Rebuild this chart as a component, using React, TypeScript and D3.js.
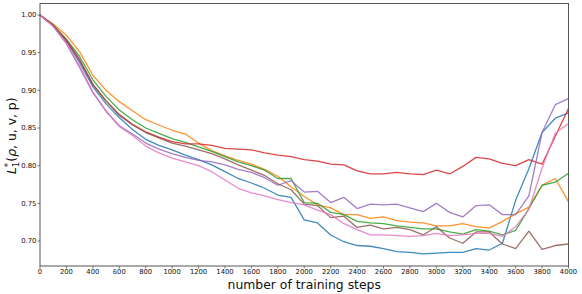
import React, { useRef, useEffect } from "react";
import * as d3 from "d3";

// training steps, sampled every 100
const steps = d3.range(0, 4001, 100);

const blueLoss = [
  1.0, 0.986, 0.965, 0.937, 0.905, 0.882, 0.864, 0.848, 0.835, 0.827, 0.821,
  0.814, 0.808, 0.801, 0.792, 0.783, 0.777, 0.77, 0.761, 0.758, 0.728,
  0.724, 0.708, 0.699, 0.694, 0.693, 0.69, 0.686, 0.685, 0.683, 0.684,
  0.685, 0.685, 0.69, 0.688, 0.697, 0.754, 0.796, 0.844, 0.863, 0.87,
];
const orangeLoss = [
  1.0, 0.988, 0.973, 0.951, 0.92, 0.9, 0.885, 0.873, 0.861, 0.854, 0.847,
  0.842, 0.83, 0.82, 0.813, 0.807, 0.802, 0.795, 0.786, 0.772, 0.759,
  0.748, 0.744, 0.735, 0.735, 0.73, 0.732, 0.727, 0.725, 0.724, 0.72,
  0.72, 0.723, 0.719, 0.717, 0.726, 0.736, 0.745, 0.774, 0.783, 0.752,
];
const greenLoss = [
  1.0, 0.987, 0.968, 0.945, 0.914, 0.892, 0.874, 0.861, 0.85, 0.843, 0.836,
  0.831, 0.825, 0.819, 0.812, 0.805, 0.8, 0.794, 0.783, 0.783, 0.751,
  0.75, 0.738, 0.735, 0.726, 0.724, 0.723, 0.72, 0.718, 0.716, 0.716,
  0.712, 0.709, 0.715, 0.713, 0.708, 0.714, 0.743, 0.774, 0.778, 0.79,
];
const redLoss = [
  1.0, 0.986, 0.966, 0.94, 0.908, 0.886, 0.868, 0.855, 0.845, 0.838, 0.832,
  0.829, 0.829, 0.827, 0.823, 0.822, 0.821, 0.817, 0.814, 0.812, 0.808,
  0.806, 0.802, 0.801, 0.793, 0.789, 0.789, 0.791, 0.789, 0.788, 0.794,
  0.789, 0.799, 0.811, 0.809, 0.803, 0.8, 0.808, 0.802, 0.839, 0.876,
];
const purpleLoss = [
  1.0, 0.985, 0.962, 0.93, 0.897, 0.872, 0.853, 0.842, 0.83, 0.822, 0.816,
  0.811, 0.807, 0.805, 0.801, 0.795, 0.791, 0.784, 0.774, 0.78, 0.765,
  0.766, 0.751, 0.758, 0.743, 0.749, 0.748, 0.749, 0.744, 0.739, 0.75,
  0.738, 0.732, 0.747, 0.748, 0.735, 0.735, 0.76, 0.844, 0.881, 0.889,
];
const brownLoss = [
  1.0, 0.986, 0.967, 0.941, 0.908, 0.886, 0.867, 0.854, 0.844, 0.837, 0.83,
  0.826, 0.821, 0.816, 0.809, 0.801, 0.794, 0.787, 0.776, 0.768, 0.749,
  0.747, 0.731, 0.733, 0.718, 0.721, 0.716, 0.718, 0.715, 0.708, 0.719,
  0.704, 0.697, 0.712, 0.712, 0.696, 0.69, 0.713, 0.689, 0.694, 0.696,
];
const pinkLoss = [
  1.0, 0.985, 0.963, 0.933, 0.898, 0.873, 0.852, 0.84, 0.826, 0.817, 0.81,
  0.805, 0.8, 0.792, 0.781, 0.77, 0.764, 0.76, 0.755, 0.751, 0.748,
  0.741, 0.735, 0.723, 0.715, 0.708, 0.708, 0.707, 0.706, 0.707, 0.71,
  0.707, 0.708, 0.71, 0.71, 0.706, 0.719, 0.742, 0.797, 0.843, 0.856,
];

const allSeries = [blueLoss, orangeLoss, greenLoss, redLoss, purpleLoss, brownLoss, pinkLoss];
const colors = ["#1f77b4", "#ff7f0e", "#2ca02c", "#d62728", "#9467bd", "#8c564b", "#e377c2"];

const xTicks = d3.range(0, 4001, 200);
const yTicks = [0.7, 0.75, 0.8, 0.85, 0.9, 0.95, 1.0];

const App = () => {
  const ref = useRef<SVGSVGElement>(null);

  useEffect(() => {
    const svg = d3.select(ref.current);
    svg.selectAll("*").remove();

    const width = 582;
    const height = 294;
    const margin = { top: 3.5, right: 13.5, bottom: 28, left: 40 };
    const font = "DejaVu Sans, sans-serif";
    const axisColor = "#555";

    const x = d3.scaleLinear().domain([0, 4000]).range([margin.left, width - margin.right]);
    const y = d3.scaleLinear().domain([0.6668, 1.0153]).range([height - margin.bottom, margin.top]);

    const line = d3
      .line<number>()
      .x((_, i) => x(steps[i]))
      .y((d) => y(d));

    allSeries.forEach((series, i) => {
      svg
        .append("path")
        .datum(series)
        .attr("fill", "none")
        .attr("stroke", colors[i])
        .attr("stroke-width", 1.3)
        .attr("stroke-opacity", 0.85)
        .attr("stroke-linejoin", "round")
        .attr("d", line);
    });

    // frame
    svg
      .append("rect")
      .attr("x", margin.left)
      .attr("y", margin.top)
      .attr("width", width - margin.left - margin.right)
      .attr("height", height - margin.top - margin.bottom)
      .attr("fill", "none")
      .attr("stroke", axisColor)
      .attr("stroke-width", 1);

    const bottom = height - margin.bottom;

    const xg = svg.append("g");
    xTicks.forEach((t) => {
      xg.append("line")
        .attr("x1", x(t))
        .attr("x2", x(t))
        .attr("y1", bottom)
        .attr("y2", bottom + 2.5)
        .attr("stroke", axisColor)
        .attr("stroke-width", 0.8);
      xg.append("text")
        .attr("x", x(t))
        .attr("y", 273.5)
        .attr("text-anchor", "middle")
        .style("font-family", font)
        .style("font-size", "6.8px")
        .attr("fill", "#111")
        .text(String(t));
    });

    const yg = svg.append("g");
    yTicks.forEach((t) => {
      yg.append("line")
        .attr("x1", margin.left - 2.5)
        .attr("x2", margin.left)
        .attr("y1", y(t))
        .attr("y2", y(t))
        .attr("stroke", axisColor)
        .attr("stroke-width", 0.8);
      yg.append("text")
        .attr("x", margin.left - 3.5)
        .attr("y", y(t))
        .attr("dy", "0.35em")
        .attr("text-anchor", "end")
        .style("font-family", font)
        .style("font-size", "6.9px")
        .attr("fill", "#111")
        .text(t.toFixed(2));
    });

    svg
      .append("text")
      .attr("x", (margin.left + width - margin.right) / 2)
      .attr("y", 288.5)
      .attr("text-anchor", "middle")
      .style("font-family", font)
      .style("font-size", "12.4px")
      .attr("fill", "#111")
      .text("number of training steps");

    // y label: L_1^*(ρ, u, v, p)
    const yl = svg
      .append("text")
      .attr("transform", `translate(15.5,${(margin.top + bottom) / 2 + 1}) rotate(-90)`)
      .attr("text-anchor", "middle")
      .style("font-family", font)
      .style("font-size", "12.4px")
      .attr("fill", "#111");
    yl.append("tspan").style("font-style", "italic").text("L");
    yl.append("tspan").attr("dy", -5).style("font-size", "8.7px").text("*");
    yl.append("tspan").attr("dx", -4.4).attr("dy", 8).style("font-size", "8.7px").text("1");
    yl.append("tspan").attr("dy", -3).text("(");
    yl.append("tspan").style("font-style", "italic").text("ρ");
    yl.append("tspan").text(", u, v, p)");
  }, []);

  return (
    <svg
      ref={ref}
      width={582}
      height={294}
      style={{ position: "absolute", left: 0, top: 0, background: "#fff", display: "block" }}
    />
  );
};

export default App;
